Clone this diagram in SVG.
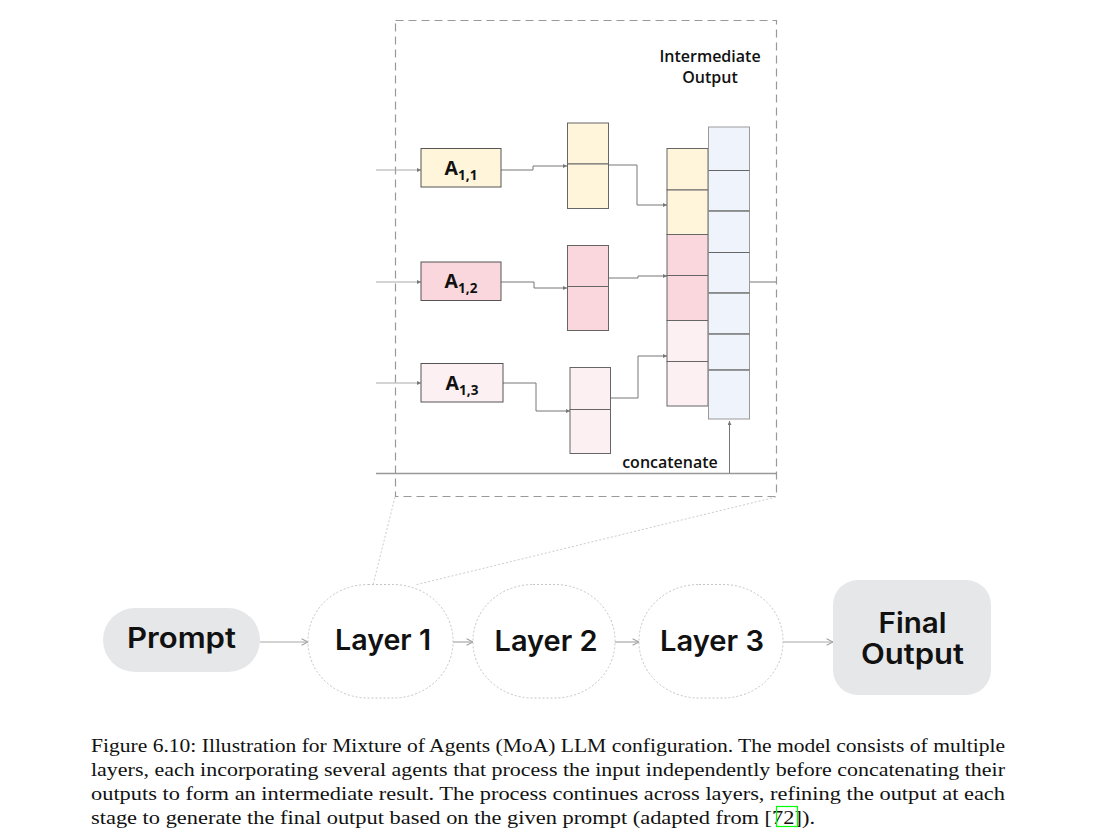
<svg xmlns="http://www.w3.org/2000/svg" width="1108" height="838" viewBox="0 0 1108 838">
  <style>
    .agent { stroke: #555; stroke-width: 1; }
    .cell { stroke: #666; stroke-width: 1; }
    .yellow { fill: #FFF5DB; }
    .pink { fill: #F9D7DC; }
    .lpink { fill: #FCF0F3; }
    .blue { fill: #EFF4FC; stroke: #999; }
    .wire { fill: none; stroke: #777; stroke-width: 1; }
    .inwire { fill: none; stroke: #aaa; stroke-width: 1; }
    .alabel { font-family: "Open Sans", "DejaVu Sans", sans-serif; font-weight: 700; fill: #111; }
    .small { font-family: "Open Sans", "DejaVu Sans", sans-serif; font-weight: 600; font-size: 16px; fill: #111; }
    .pill { fill: #E6E7E9; }
    .layer { fill: #fff; stroke: #c4c4c4; stroke-width: 1; stroke-dasharray: 2 2; }
    .big { font-family: Inter, "Noto Sans", sans-serif; font-weight: 600; font-size: 28px; fill: #111; text-anchor: middle; }
    .flow { fill: none; stroke: #a8a8a8; stroke-width: 1.2; marker-end: url(#open); }
    .caption { font-family: "Liberation Serif", "DejaVu Serif", serif; font-size: 18.5px; fill: #111; }
  </style>
  <defs>
    <marker id="open" viewBox="0 0 10 10" refX="9" refY="5" markerWidth="8" markerHeight="8" markerUnits="userSpaceOnUse" orient="auto">
      <path d="M1,1 L9,5 L1,9" fill="none" stroke="#a0a0a0" stroke-width="1.3"/>
    </marker>
    <marker id="tip" viewBox="0 0 6 6" refX="6" refY="3" markerWidth="4" markerHeight="4" markerUnits="userSpaceOnUse" orient="auto">
      <path d="M0,0 L6,3 L0,6 Z" fill="#777"/>
    </marker>
  </defs>

  <rect width="1108" height="838" fill="#fff"/>

  <!-- layer detail frame -->
  <g id="layer-detail">
    <rect x="395.5" y="20.5" width="381" height="476" fill="none" stroke="#999" stroke-width="1.2" stroke-dasharray="8 5"/>
    <text class="small" x="710" y="62" text-anchor="middle">Intermediate</text>
    <text class="small" x="710" y="83" text-anchor="middle">Output</text>
    <text class="small" x="670" y="468" text-anchor="middle">concatenate</text>
  </g>

  <!-- connectors -->
  <g id="connectors">
    <path class="inwire" d="M376,170 H421" marker-end="url(#tip)"/>
    <path class="inwire" d="M376,282 H421" marker-end="url(#tip)"/>
    <path class="inwire" d="M376,383 H421" marker-end="url(#tip)"/>
    <path class="wire" d="M501,170 H533 V166 H567" marker-end="url(#tip)"/>
    <path class="wire" d="M501,282 H534 V288 H567" marker-end="url(#tip)"/>
    <path class="wire" d="M503,383 H536 V411 H570" marker-end="url(#tip)"/>
    <path class="wire" d="M608,165 H637 V205 H667" marker-end="url(#tip)"/>
    <path class="wire" d="M608,278 H638 V276 H667" marker-end="url(#tip)"/>
    <path class="wire" d="M611,398 H638 V356 H667" marker-end="url(#tip)"/>
    <path class="wire" d="M749,282 H776"/>
    <path d="M376,473.5 H776" stroke="#999" stroke-width="1.5" fill="none"/>
    <path class="wire" d="M729.5,473 V421" stroke="#999" marker-end="url(#tip)"/>
    <!-- zoom guides from the frame down to Layer 1 -->
    <path d="M395,497 L373,585" fill="none" stroke="#ccc" stroke-width="1" stroke-dasharray="2 2"/>
    <path d="M776,497 L415,585" fill="none" stroke="#ccc" stroke-width="1" stroke-dasharray="2 2"/>
    <!-- main flow -->
    <path class="flow" d="M260,642 H308"/>
    <path class="flow" d="M453,642 H473"/>
    <path class="flow" d="M615,642 H639"/>
    <path class="flow" d="M783,642 H833"/>
  </g>

  <!-- agents -->
  <g id="agent-1-1">
    <rect class="agent yellow" x="421" y="148.5" width="80" height="38.5"/>
    <text class="alabel" x="461" y="175" text-anchor="middle" font-size="19.5">A<tspan font-size="13.5" dy="5">1,1</tspan></text>
  </g>
  <g id="agent-1-2">
    <rect class="agent pink" x="421" y="262" width="80" height="38.5"/>
    <text class="alabel" x="461" y="288" text-anchor="middle" font-size="19.5">A<tspan font-size="13.5" dy="5">1,2</tspan></text>
  </g>
  <g id="agent-1-3">
    <rect class="agent lpink" x="421" y="363.5" width="82" height="38.5"/>
    <text class="alabel" x="462" y="390" text-anchor="middle" font-size="19.5">A<tspan font-size="13.5" dy="5">1,3</tspan></text>
  </g>

  <!-- agent outputs -->
  <g id="output-1-1">
    <rect class="cell yellow" x="567.5" y="123" width="41" height="41"/>
    <rect class="cell yellow" x="567.5" y="164" width="41" height="44.5"/>
  </g>
  <g id="output-1-2">
    <rect class="cell pink" x="567.5" y="245.5" width="41" height="41"/>
    <rect class="cell pink" x="567.5" y="286.5" width="41" height="44"/>
  </g>
  <g id="output-1-3">
    <rect class="cell lpink" x="570" y="367.5" width="40.5" height="42"/>
    <rect class="cell lpink" x="570" y="409.5" width="40.5" height="44"/>
  </g>

  <!-- concatenated stack -->
  <g id="concat-stack">
    <rect class="cell yellow" x="667" y="148.5" width="41" height="41.5" stroke="#444"/>
    <rect class="cell yellow" x="667" y="190" width="41" height="44.5" stroke="#444"/>
    <rect class="cell pink" x="667" y="234.5" width="41" height="41" stroke="#444"/>
    <rect class="cell pink" x="667" y="275.5" width="41" height="45" stroke="#444"/>
    <rect class="cell lpink" x="667" y="320.5" width="41" height="41" stroke="#444"/>
    <rect class="cell lpink" x="667" y="361.5" width="41" height="44.5" stroke="#444"/>
  </g>

  <!-- intermediate output -->
  <g id="intermediate-output">
    <rect class="cell blue" x="708.5" y="127" width="41" height="43.5"/>
    <rect class="cell blue" x="708.5" y="170.5" width="41" height="40.5"/>
    <rect class="cell blue" x="708.5" y="211" width="41" height="41.5"/>
    <rect class="cell blue" x="708.5" y="252.5" width="41" height="40.5"/>
    <rect class="cell blue" x="708.5" y="293" width="41" height="41"/>
    <rect class="cell blue" x="708.5" y="334" width="41" height="36"/>
    <rect class="cell blue" x="708.5" y="370" width="41" height="49"/>
    <path d="M708.5,170.5 H749.5 M708.5,211 H749.5 M708.5,252.5 H749.5 M708.5,293 H749.5 M708.5,334 H749.5 M708.5,370 H749.5" stroke="#666" stroke-width="1.2"/>
  </g>

  <!-- pipeline -->
  <g id="prompt">
    <rect class="pill" x="103" y="608" width="157" height="64" rx="32"/>
    <text class="big" x="181.5" y="648" textLength="109" lengthAdjust="spacingAndGlyphs">Prompt</text>
  </g>
  <g id="layer-1">
    <rect class="layer" x="308" y="584.5" width="145" height="113.5" rx="60" ry="56"/>
    <text class="big" x="383" y="650" textLength="96" lengthAdjust="spacingAndGlyphs">Layer 1</text>
  </g>
  <g id="layer-2">
    <rect class="layer" x="473" y="584.5" width="142" height="113.5" rx="60" ry="56"/>
    <text class="big" x="546" y="651" textLength="103" lengthAdjust="spacingAndGlyphs">Layer 2</text>
  </g>
  <g id="layer-3">
    <rect class="layer" x="639" y="584.5" width="144" height="113.5" rx="60" ry="56"/>
    <text class="big" x="712" y="651" textLength="104" lengthAdjust="spacingAndGlyphs">Layer 3</text>
  </g>
  <g id="final-output">
    <rect class="pill" x="833" y="580" width="158" height="115" rx="25"/>
    <text class="big" x="912.5" y="633" textLength="68" lengthAdjust="spacingAndGlyphs">Final</text>
    <text class="big" x="912.5" y="664" textLength="103" lengthAdjust="spacingAndGlyphs">Output</text>
  </g>

  <!-- caption -->
  <g id="caption">
    <text class="caption" x="91" y="752" textLength="914" lengthAdjust="spacingAndGlyphs">Figure 6.10: Illustration for Mixture of Agents (MoA) LLM configuration. The model consists of multiple</text>
    <text class="caption" x="91" y="776" textLength="914" lengthAdjust="spacingAndGlyphs">layers, each incorporating several agents that process the input independently before concatenating their</text>
    <text class="caption" x="91" y="800" textLength="914" lengthAdjust="spacingAndGlyphs">outputs to form an intermediate result. The process continues across layers, refining the output at each</text>
    <text class="caption" x="91" y="824" textLength="724" lengthAdjust="spacingAndGlyphs">stage to generate the final output based on the given prompt (adapted from [72]).</text>
    <rect x="776.5" y="806.5" width="21" height="20" fill="none" stroke="#00ff00" stroke-width="1.2"/>
  </g>
</svg>
